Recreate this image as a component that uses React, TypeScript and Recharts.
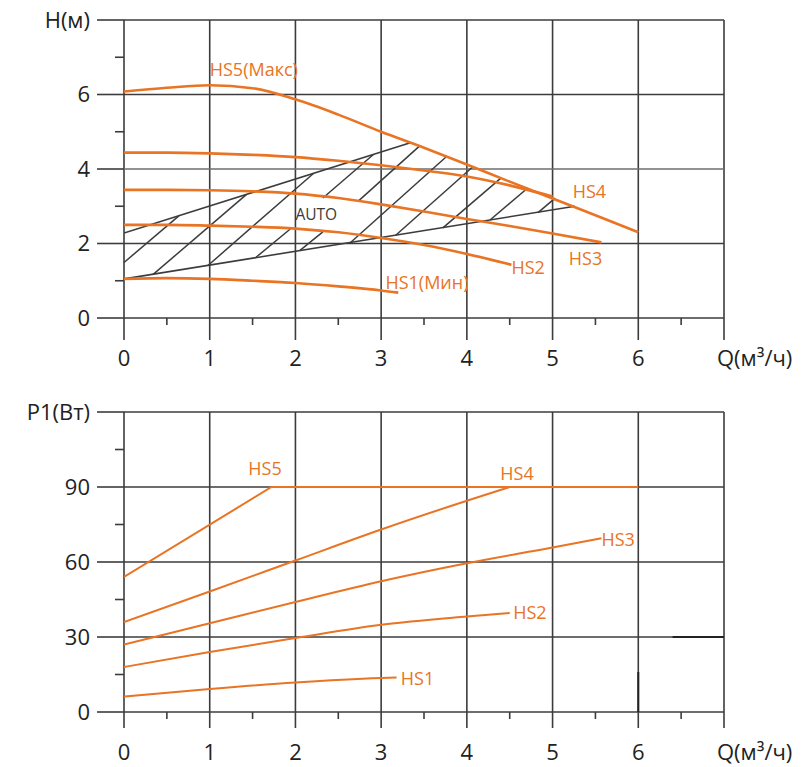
import React from "react";
import {
  ComposedChart,
  Line,
  XAxis,
  YAxis,
  CartesianGrid,
  ReferenceLine,
  ReferenceDot,
} from "recharts";

const ORANGE = "#e87424";
const GRID = "#3c3c3c";
const INK = "#222";
const FONT = "'Open Sans', 'DejaVu Sans', sans-serif";

// Q axis, shared by both panels (m³/h)
const flowTicks = [0, 0.5, 1, 1.5, 2, 2.5, 3, 3.5, 4, 4.5, 5, 5.5, 6, 6.5, 7];
const flowGrid = [0, 1, 2, 3, 4, 5, 6, 7];

// head H(Q), m
const headTicks = [0, 1, 2, 3, 4, 5, 6, 7, 8];
const headMajor = [0, 2, 4, 6, 8];

const hs1Flow = [0, 0.5, 1, 1.5, 2, 2.5, 3, 3.2];
const hs1Head = [1.05, 1.07, 1.05, 1.0, 0.94, 0.85, 0.74, 0.68];
const hs2Flow = [0, 0.5, 1, 1.5, 2, 2.5, 3, 3.5, 4, 4.52];
const hs2Head = [2.5, 2.5, 2.48, 2.45, 2.4, 2.3, 2.15, 1.96, 1.72, 1.43];
const hs3Flow = [0, 0.5, 1, 1.5, 2, 2.5, 3, 3.5, 4, 4.5, 5, 5.57];
const hs3Head = [3.44, 3.44, 3.43, 3.4, 3.34, 3.22, 3.05, 2.86, 2.66, 2.47, 2.27, 2.03];
const hs4Flow = [0, 0.5, 1, 1.5, 2, 2.5, 3, 3.5, 4, 4.5, 5];
const hs4Head = [4.44, 4.44, 4.42, 4.38, 4.32, 4.22, 4.1, 3.96, 3.8, 3.56, 3.26];
const hs5Flow = [0, 0.5, 1, 1.5, 2, 2.5, 3, 3.5, 4, 4.5, 5, 5.5, 6];
const hs5Head = [6.08, 6.18, 6.25, 6.17, 5.87, 5.46, 5.0, 4.57, 4.12, 3.66, 3.21, 2.76, 2.3];

// AUTO zone: lower and upper limits, plus hatch strokes [q1, h1, q2, h2]
const autoLowFlow = [0, 5.26];
const autoLowHead = [1.05, 3.0];
const autoHighFlow = [0, 3.35];
const autoHighHead = [2.28, 4.71];
const autoHatch: [number, number, number, number][] = [
  [0, 1.49, 0.64, 2.74],
  [0.34, 1.17, 1.43, 3.32],
  [0.98, 1.41, 2.21, 3.88],
  [1.53, 1.61, 1.94, 2.39],
  [2.32, 3.22, 2.91, 4.39],
  [2.05, 1.81, 2.32, 2.31],
  [2.73, 3.13, 3.45, 4.62],
  [2.64, 2.02, 3.76, 4.33],
  [3.17, 2.22, 4.07, 4.06],
  [3.72, 2.42, 4.4, 3.76],
  [4.27, 2.63, 4.71, 3.49],
  [4.83, 2.83, 5.03, 3.22],
];

// power P1(Q), W
const powerTicks = [0, 15, 30, 45, 60, 75, 90, 105, 120];
const powerMajor = [0, 30, 60, 90, 120];

const p1Flow = [0, 1, 2, 3, 3.18];
const p1Watt = [6.2, 9.2, 11.8, 13.6, 13.8];
const p2Flow = [0, 1, 2, 3, 4, 4.5];
const p2Watt = [18, 24, 29.6, 34.9, 38.2, 39.6];
const p3Flow = [0, 1, 2, 3, 4, 5, 5.57];
const p3Watt = [27, 35.5, 44, 52.3, 59.5, 65.8, 69.5];
const p4Flow = [0, 1, 2, 3, 4, 4.5];
const p4Watt = [36, 48.2, 60.6, 73, 84.5, 90];
const p5Flow = [0, 1.72, 6];
const p5Watt = [54, 90, 90];

const zip = (qs: number[], vs: number[]) => qs.map((q, i) => ({ q, v: vs[i] }));

const headTags = [
  { text: "HS5(Макс)", q: 1.0, v: 6.66 },
  { text: "HS4", q: 5.235, v: 3.39 },
  { text: "HS3", q: 5.19, v: 1.59 },
  { text: "HS2", q: 4.52, v: 1.36 },
  { text: "HS1(Мин)", q: 3.05, v: 0.95 },
];
const powerTags = [
  { text: "HS5", q: 1.45, v: 97.5 },
  { text: "HS4", q: 4.39, v: 95.2 },
  { text: "HS3", q: 5.57, v: 69.1 },
  { text: "HS2", q: 4.54, v: 39.6 },
  { text: "HS1", q: 3.23, v: 13.3 },
];

const makeFlowTick = (majorLen: number) => (props: any) => {
  const { x = 0, y = 0, payload } = props;
  const v = payload?.value ?? 0;
  const major = Number.isInteger(v);
  const last = v === 7;
  return (
    <g>
      <line x1={x} x2={x} y1={y} y2={y + (major ? majorLen : 7)} stroke={GRID} strokeWidth={1.6} />
      {major && (
        <text
          x={last ? x - 7 : x}
          y={y + 40}
          dy="0.36em"
          textAnchor={last ? "start" : "middle"}
          fill={INK}
          fontSize={22}
          fontFamily={FONT}
        >
          {last ? "Q(м³/ч)" : v}
        </text>
      )}
    </g>
  );
};

const makeValueTick = (majors: number[], title: string) => (props: any) => {
  const { x = 0, y = 0, payload } = props;
  const v = payload?.value ?? 0;
  const major = majors.includes(v);
  const top = v === majors[majors.length - 1];
  return (
    <g>
      <line x1={x - (major ? 27 : 9)} x2={x} y1={y} y2={y} stroke={GRID} strokeWidth={1.6} />
      {major && (
        <text x={x - 34} y={y} dy="0.36em" textAnchor="end" fill={INK} fontSize={22} fontFamily={FONT}>
          {top ? title : v}
        </text>
      )}
    </g>
  );
};

const tagShape = (text: string, color = ORANGE, size = 18, weight = 400) => (p: any) => (
  <text
    x={p.cx}
    y={p.cy}
    dy="0.36em"
    fill={color}
    fontSize={size}
    fontWeight={weight}
    fontFamily={FONT}
  >
    {text}
  </text>
);

const curve = (key: string, data: { q: number; v: number }[], width: number, type: any = "monotone") => (
  <Line
    key={key}
    data={data}
    dataKey="v"
    type={type}
    stroke={ORANGE}
    strokeWidth={width}
    dot={false}
    activeDot={false}
    isAnimationActive={false}
  />
);

const blackLine = (key: string, data: { q: number; v: number }[]) => (
  <Line
    key={key}
    data={data}
    dataKey="v"
    type="linear"
    stroke={GRID}
    strokeWidth={1.6}
    dot={false}
    activeDot={false}
    isAnimationActive={false}
  />
);

const HeadChart = () => (
  <ComposedChart width={807} height={380} margin={{ top: 20, right: 83, bottom: 2, left: 64 }}>
    <CartesianGrid
      stroke={GRID}
      strokeWidth={1.6}
      verticalValues={flowGrid}
      horizontalValues={[0, 2, 6, 8]}
    />
    <CartesianGrid stroke="#6e6e6e" strokeWidth={1.6} vertical={false} horizontalValues={[4]} />
    <XAxis
      dataKey="q"
      type="number"
      domain={[0, 7]}
      ticks={flowTicks}
      interval={0}
      allowDataOverflow
      height={60}
      axisLine={false}
      tickLine={false}
      tickSize={0}
      tickMargin={0}
      tick={makeFlowTick(22)}
    />
    <YAxis
      type="number"
      domain={[0, 8]}
      ticks={headTicks}
      interval={0}
      allowDataOverflow
      width={60}
      axisLine={false}
      tickLine={false}
      tickSize={0}
      tickMargin={0}
      tick={makeValueTick(headMajor, "H(м)")}
    />
    {autoHatch.map(([q1, h1, q2, h2], i) => (
      <ReferenceLine
        key={`hatch-${i}`}
        segment={[
          { x: q1, y: h1 },
          { x: q2, y: h2 },
        ]}
        stroke={GRID}
        strokeWidth={1.5}
      />
    ))}
    {blackLine("auto-low", zip(autoLowFlow, autoLowHead))}
    {blackLine("auto-high", zip(autoHighFlow, autoHighHead))}
    {curve("hs1", zip(hs1Flow, hs1Head), 2.6)}
    {curve("hs2", zip(hs2Flow, hs2Head), 2.6)}
    {curve("hs3", zip(hs3Flow, hs3Head), 2.6)}
    {curve("hs4", zip(hs4Flow, hs4Head), 2.6)}
    {curve("hs5", zip(hs5Flow, hs5Head), 2.6)}
    {headTags.map((t) => (
      <ReferenceDot key={t.text} x={t.q} y={t.v} r={0} shape={tagShape(t.text)} />
    ))}
    <ReferenceDot x={2.0} y={2.77} r={0} shape={tagShape("AUTO", "#3a3a3a", 15.5, 500)} />
  </ComposedChart>
);

const PowerChart = () => (
  <ComposedChart width={807} height={387} margin={{ top: 32, right: 83, bottom: 5, left: 64 }}>
    <CartesianGrid
      stroke={GRID}
      strokeWidth={1.6}
      verticalValues={flowGrid}
      horizontalValues={powerMajor}
    />
    <XAxis
      dataKey="q"
      type="number"
      domain={[0, 7]}
      ticks={flowTicks}
      interval={0}
      allowDataOverflow
      height={50}
      axisLine={false}
      tickLine={false}
      tickSize={0}
      tickMargin={0}
      tick={makeFlowTick(16)}
    />
    <YAxis
      type="number"
      domain={[0, 120]}
      ticks={powerTicks}
      interval={0}
      allowDataOverflow
      width={60}
      axisLine={false}
      tickLine={false}
      tickSize={0}
      tickMargin={0}
      tick={makeValueTick(powerMajor, "P1(Вт)")}
    />
    <ReferenceLine segment={[{ x: 6, y: 0 }, { x: 6, y: 16 }]} stroke="#222" strokeWidth={2} />
    <ReferenceLine segment={[{ x: 6.4, y: 30 }, { x: 7, y: 30 }]} stroke="#222" strokeWidth={2} />
    {curve("p1", zip(p1Flow, p1Watt), 2)}
    {curve("p2", zip(p2Flow, p2Watt), 2)}
    {curve("p3", zip(p3Flow, p3Watt), 2)}
    {curve("p4", zip(p4Flow, p4Watt), 2)}
    {curve("p5", zip(p5Flow, p5Watt), 2, "linear")}
    {powerTags.map((t) => (
      <ReferenceDot key={t.text} x={t.q} y={t.v} r={0} shape={tagShape(t.text)} />
    ))}
  </ComposedChart>
);

export default function App() {
  return (
    <div style={{ position: "absolute", left: 0, top: 0, width: 807, height: 767, background: "#fff" }}>
      <div style={{ position: "absolute", left: 0, top: 0 }}>
        <HeadChart />
      </div>
      <div style={{ position: "absolute", left: 0, top: 380 }}>
        <PowerChart />
      </div>
    </div>
  );
}
